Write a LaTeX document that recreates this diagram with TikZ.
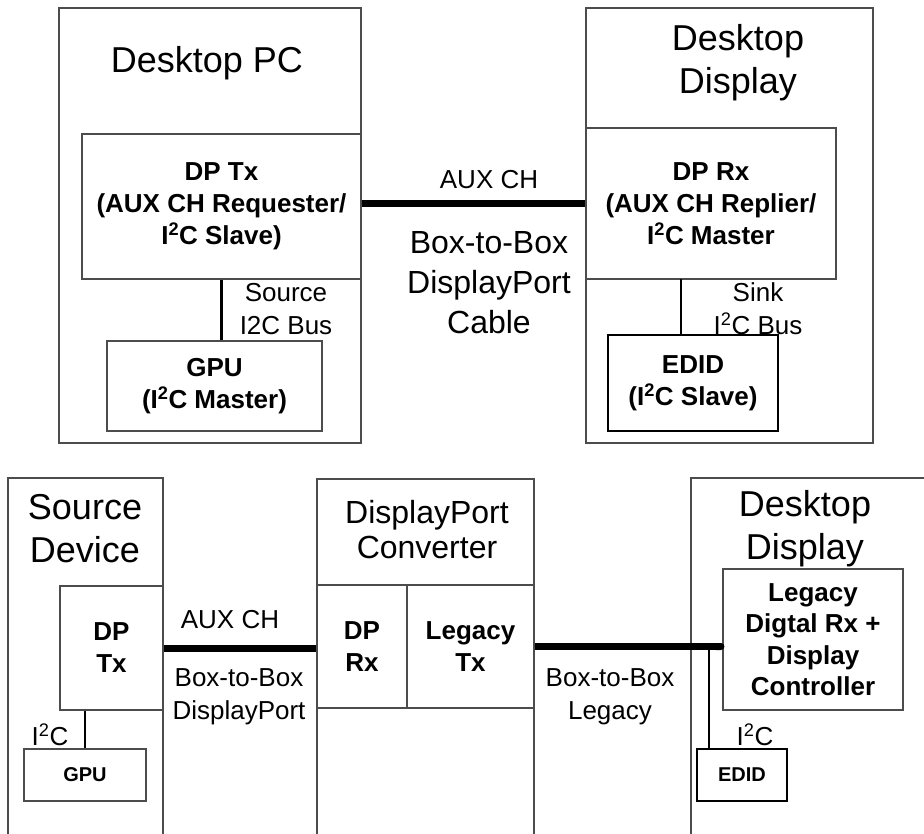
\documentclass[tikz,border=0pt]{standalone}
\usepackage{fontspec}
\setmainfont{Liberation Sans}
\usetikzlibrary{calc,arrows.meta}

\begin{document}
\begin{tikzpicture}[
  x=1pt,y=-1pt,
  frame/.style={draw=black!70,line width=1.1pt},
  unit/.style={draw=black!70,line width=1.1pt,inner sep=0pt,align=center,
               font=\bfseries\fontsize{26}{32}\selectfont},
  smallunit/.style={unit,draw=black,line width=1.8pt,
                    font=\bfseries\fontsize{20}{24}\selectfont},
  titletext/.style={align=center,font=\fontsize{36}{43}\selectfont},
  midtext/.style={align=center,font=\fontsize{32}{40}\selectfont},
  labeltext/.style={align=center,font=\fontsize{26}{33}\selectfont},
  bus/.style={line width=2.4pt},
  cable/.style={line width=7pt}
]
\useasboundingbox (0,0) rectangle (924,834);

% box-to-box DisplayPort cable
\node[frame,minimum width=302,minimum height=435,inner sep=0pt] (pc) at (210,225.5) {};
\node[titletext] (pctitle) at (207,63) {Desktop PC};
\node[unit,minimum width=279,minimum height=145] (dptx) at (221.5,206.5)
  {DP Tx\\(AUX CH Requester/\\I\textsuperscript{2}C Slave)};
\node[unit,minimum width=215,minimum height=90] (gpu) at (214.5,386)
  {GPU\\(I\textsuperscript{2}C Master)};
\draw[bus] (dptx.south) -- (dptx.south |- gpu.north);
\node[labeltext] (srcbus) at (286,309) {Source\\I2C Bus};

\node[frame,minimum width=287,minimum height=435,inner sep=0pt] (disp) at (729.5,225.5) {};
\node[titletext] (disptitle) at (738,63) {Desktop\\Display};
\node[unit,minimum width=250,minimum height=151] (dprx) at (711,203.5)
  {DP Rx\\(AUX CH Replier/\\I\textsuperscript{2}C Master};
\node[smallunit,font=\bfseries\fontsize{26}{32}\selectfont,
      minimum width=170,minimum height=96] (edid) at (693,383)
  {EDID\\(I\textsuperscript{2}C Slave)};
\coordinate (sinkpt) at (681,279);
\draw[bus] (sinkpt) -- (sinkpt |- edid.north);
\node[labeltext] (sinkbus) at (758,309) {Sink\\I\textsuperscript{2}C Bus};

\draw[cable] (dprx.west -| dptx.east) -- (dprx.west);
\node[labeltext] (auxtop) at (489,180) {AUX CH};
\node[midtext] (cabletop) at (489,283) {Box-to-Box\\DisplayPort\\Cable};

% source, converter and legacy display
\draw[frame] (8,838) |- (163,478) -- (163,838);
\node[titletext] (srctitle) at (85,529) {Source\\Device};
\node[unit,minimum width=103,minimum height=124] (dptx2) at (111.5,648) {DP\\Tx};
\node[smallunit,draw=black!70,line width=1.1pt,
      minimum width=122,minimum height=52] (gpu2) at (85,775) {GPU};
\draw[bus] (gpu2.north |- dptx2.south) -- (gpu2.north);
\node[labeltext] (i2cleft) at (50,735) {I\textsuperscript{2}C};

\draw[frame] (317,838) |- (534,479) -- (534,838);
\node[midtext,font=\fontsize{32}{35}\selectfont] (convtitle) at (427,530)
  {DisplayPort\\Converter};
\node[unit,minimum width=90,minimum height=123] (dprx2) at (362,646.5) {DP\\Rx};
\node[unit,minimum width=127,minimum height=123] (legtx) at (470.5,646.5) {Legacy\\Tx};

\draw[frame] (691,838) |- (928,478);
\node[titletext] (disptitle2) at (805,529) {Desktop\\Display};
\node[unit,minimum width=180,minimum height=141,
      font=\bfseries\fontsize{26}{31.5}\selectfont] (lrx) at (813,639.5)
  {Legacy\\Digtal Rx +\\Display\\Controller};
\node[smallunit,minimum width=90,minimum height=52] (edid2) at (742,775) {EDID};

\draw[cable] (dptx2.east) -- (dptx2.east -| dprx2.west);
\node[labeltext] (auxbot) at (230,620) {AUX CH};
\node[labeltext] (cabledp) at (239,697) {Box-to-Box\\DisplayPort};

\draw[cable,-{Round Cap[]}] (legtx.east) -- ($(legtx.east -| lrx.west)+(2,0)$);
\coordinate (jct) at (709,647);
\draw[bus] (jct) -- (jct |- edid2.north);
\node[labeltext] (cableleg) at (610,697) {Box-to-Box\\Legacy};
\node[labeltext] (i2cright) at (755,735) {I\textsuperscript{2}C};
\end{tikzpicture}
\end{document}
